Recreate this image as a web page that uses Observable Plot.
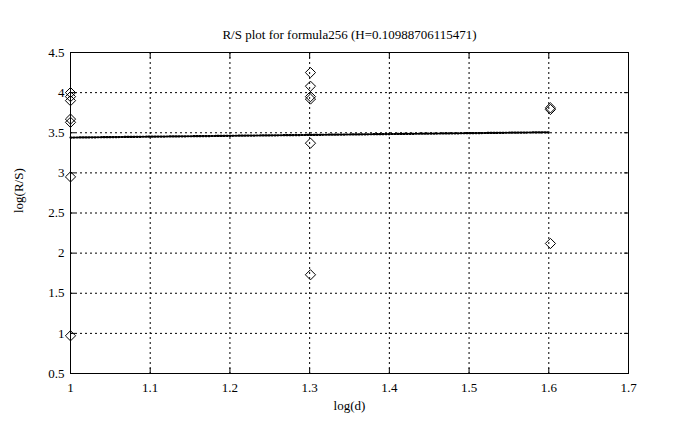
<!DOCTYPE html>
<html>
<head>
<meta charset="utf-8">
<script src="https://cdn.jsdelivr.net/npm/d3@7"></script>
<script src="https://cdn.jsdelivr.net/npm/@observablehq/plot@0.6"></script>
<style>
  html, body { margin: 0; padding: 0; background: #fff; }
  #chart svg { display: block; }
</style>
</head>
<body>
<div id="chart"></div>
<script>
const titleText = "R/S plot for formula256 (H=0.10988706115471)";
const logD = [1, 1.30103, 1.60206];
const rsValues = [
  [4.0, 3.95, 3.9, 3.67, 3.63, 2.95, 0.97],
  [4.25, 4.08, 3.95, 3.92, 3.37, 1.73],
  [3.81, 3.79, 2.12]
];
const fitX = [1, 1.60206];
const fitY = [3.44, 3.506];
const xTicks = [1, 1.1, 1.2, 1.3, 1.4, 1.5, 1.6, 1.7];
const yTicks = [0.5, 1, 1.5, 2, 2.5, 3, 3.5, 4, 4.5];

const points = [];
logD.forEach((x, i) => rsValues[i].forEach(v => points.push({x, y: v})));
const fit = fitX.map((x, i) => ({x, y: fitY[i]}));

const fmt = d => String(d);
const font = "'Liberation Serif', 'DejaVu Serif', serif";

const chart = Plot.plot({
  width: 686,
  height: 430,
  marginLeft: 70,
  marginRight: 58,
  marginTop: 52,
  marginBottom: 57,
  style: {fontFamily: font, fontSize: "13px", background: "#fff", color: "#000"},
  x: {domain: [1, 1.7], ticks: xTicks},
  y: {domain: [0.5, 4.5], ticks: yTicks},
  marks: [
    Plot.gridX(xTicks.slice(1, -1), {stroke: "#000", strokeOpacity: 1, strokeDasharray: "2,3"}),
    Plot.gridY(yTicks.slice(1, -1), {stroke: "#000", strokeOpacity: 1, strokeDasharray: "2,3"}),
    Plot.axisX(xTicks, {anchor: "bottom", tickSize: 0, tickPadding: 9, tickFormat: fmt, label: null, fontSize: 13}),
    Plot.axisX(xTicks, {anchor: "bottom", tickSize: -5, tickFormat: () => "", label: null}),
    Plot.axisX(xTicks, {anchor: "top", tickSize: -5, tickFormat: () => "", label: null}),
    Plot.axisY(yTicks, {anchor: "left", tickSize: 0, tickPadding: 6, tickFormat: fmt, label: null, fontSize: 13}),
    Plot.axisY(yTicks, {anchor: "left", tickSize: -5, tickFormat: () => "", label: null}),
    Plot.axisY(yTicks, {anchor: "right", tickSize: -5, tickFormat: () => "", label: null}),
    Plot.frame({stroke: "#000"}),
    Plot.line(fit, {x: "x", y: "y", stroke: "#000", strokeWidth: 2.2, strokeDasharray: "1.2,1.8"}),
    Plot.dot(points, {x: "x", y: "y", symbol: "diamond2", r: 4.6, stroke: "#000", strokeWidth: 1, fill: "none"}),
    Plot.text([titleText], {frameAnchor: "top", dy: -23, fontSize: 13, fill: "#000"}),
    Plot.text(["log(d)"], {frameAnchor: "bottom", dy: 36, fontSize: 13, fill: "#000"}),
    Plot.text(["log(R/S)"], {frameAnchor: "left", dx: -52, rotate: -90, fontSize: 13, fill: "#000"})
  ]
});
document.getElementById("chart").appendChild(chart);
</script>
</body>
</html>
